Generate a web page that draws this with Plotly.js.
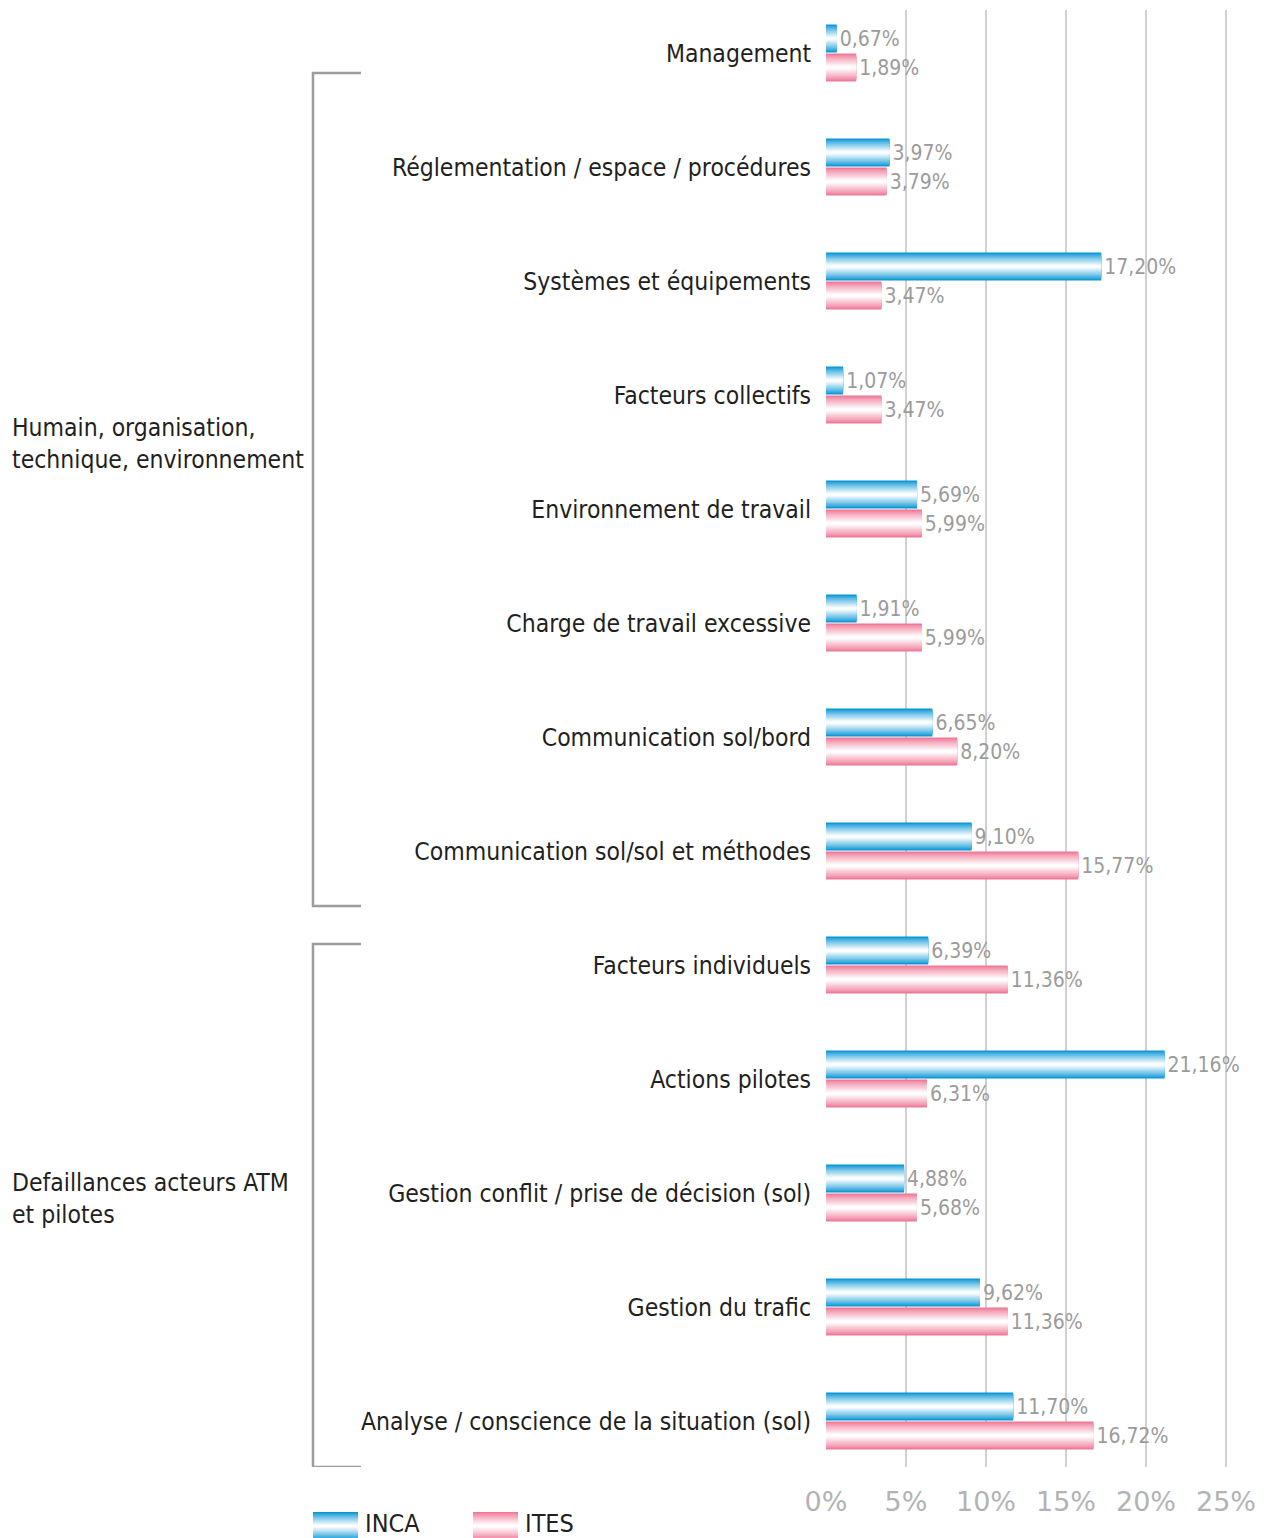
<!DOCTYPE html>
<html>
<head>
<meta charset="utf-8">
<script src="https://cdn.plot.ly/plotly-3.0.1.min.js"></script>
<style>html,body{margin:0;padding:0;background:#fff}</style>
</head>
<body>
<div id="chart" style="width:1275px;height:1538px"></div>
<script>
// Causes by category, share of events (%)
const categories = [
  'Management',
  'Réglementation / espace / procédures',
  'Systèmes et équipements',
  'Facteurs collectifs',
  'Environnement de travail',
  'Charge de travail excessive',
  'Communication sol/bord',
  'Communication sol/sol et méthodes',
  'Facteurs individuels',
  'Actions pilotes',
  'Gestion conflit / prise de décision (sol)',
  'Gestion du trafic',
  'Analyse / conscience de la situation (sol)'
];
const incaValues = [0.67, 3.97, 17.20, 1.07, 5.69, 1.91, 6.65, 9.10, 6.39, 21.16, 4.88, 9.62, 11.70];
const itesValues = [1.89, 3.79, 3.47, 3.47, 5.99, 5.99, 8.20, 15.77, 11.36, 6.31, 5.68, 11.36, 16.72];
const seriesNames = ['INCA', 'ITES'];
const groupLabels = ['Humain, organisation,<br>technique, environnement', 'Defaillances acteurs ATM<br>et pilotes'];
const xTickValues = [0, 5, 10, 15, 20, 25];

// ---- page geometry
const W = 1275, H = 1538;
const M = {l: 826, r: 0, t: 10, b: 71};
const plotW = W - M.l - M.r, plotH = H - M.t - M.b;
const ROW = 114, FIRST_ROW = 53;         // px per category row, centre of first row
const xRange = [0, plotW / 16];          // 16 px per percent
const yRange = [(H - M.b - FIRST_ROW) / ROW, -(FIRST_ROW - M.t) / ROW];   // reversed
const pxToPaperX = px => (px - M.l) / plotW;
const pxToPaperY = py => (H - M.b - py) / plotH;
const pxToIdx = py => (py - FIRST_ROW) / ROW;

const FONT = '"DejaVu Sans Condensed", "Liberation Sans Narrow", sans-serif';
const INK = '#231f20';
const edgeColors = [[8, 150, 214], [239, 119, 150]];

function mix(rgb, t) {
  const c = rgb.map(v => Math.round(v + (255 - v) * t));
  return `rgb(${c[0]},${c[1]},${c[2]})`;
}
const pct = v => v.toFixed(2).replace('.', ',') + '%';

// Shaded bars: each series is a stack of nested bars fading from edge colour to white
const LAYERS = 12;
const bandW = 28 / ROW;
const gap = 0.5 / ROW;
const bands = [{center: -gap - bandW / 2}, {center: gap + bandW / 2}];
const traces = [];
[incaValues, itesValues].forEach((vals, s) => {
  for (let k = 0; k < LAYERS; k++) {
    const w = bandW * (1 - k / LAYERS);
    const t = Math.pow(k / (LAYERS - 1), 0.85);
    const tr = {
      type: 'bar', orientation: 'h',
      x: vals, y: categories,
      width: w, offset: bands[s].center - w / 2,
      marker: {color: mix(edgeColors[s], t), line: {width: 0}},
      name: seriesNames[s], showlegend: false, hoverinfo: 'skip'
    };
    if (k === 0) {
      tr.text = vals.map(pct);
      tr.textposition = 'outside';
      tr.constraintext = 'none';
      tr.cliponaxis = false;
      tr.textfont = {family: FONT, size: 21, color: '#9b9b9b'};
    }
    traces.push(tr);
  }
});

// Group brackets on the left
const shapes = [];
[[73, 906], [944, 1467]].forEach(([a, b]) => {
  const x0 = pxToPaperX(313), x1 = pxToPaperX(361);
  shapes.push({
    type: 'path', xref: 'paper', yref: 'y',
    path: `M ${x1} ${pxToIdx(a)} L ${x0} ${pxToIdx(a)} L ${x0} ${pxToIdx(b)} L ${x1} ${pxToIdx(b)}`,
    line: {color: '#9d9d9f', width: 2.5}
  });
});

// Legend swatches with the same fade
const legendX = [313, 473];
legendX.forEach((lx, s) => {
  const top = 1512, bot = 1540, mid = (top + bot) / 2;
  for (let k = 0; k < LAYERS; k++) {
    const half = (bot - top) / 2 * (1 - k / LAYERS);
    const t = Math.pow(k / (LAYERS - 1), 0.85);
    shapes.push({
      type: 'rect', xref: 'paper', yref: 'paper',
      x0: pxToPaperX(lx), x1: pxToPaperX(lx + 45),
      y0: pxToPaperY(mid + half), y1: pxToPaperY(mid - half),
      fillcolor: mix(edgeColors[s], t), line: {width: 0}, layer: 'above'
    });
  }
});

const annotations = [
  {text: groupLabels[0], x: pxToPaperX(10), y: pxToIdx(443)},
  {text: groupLabels[1], x: pxToPaperX(10), y: pxToIdx(1198)}
].map(a => Object.assign({
  xref: 'paper', yref: 'y', xanchor: 'left', yanchor: 'middle', align: 'left',
  showarrow: false, font: {family: FONT, size: 24.5, color: INK}
}, a));
seriesNames.forEach((n, s) => {
  annotations.push({
    text: n, xref: 'paper', yref: 'paper',
    x: pxToPaperX(legendX[s] + 50), y: pxToPaperY(1523),
    xanchor: 'left', yanchor: 'middle', showarrow: false,
    font: {family: FONT, size: 25, color: INK}
  });
});

const layout = {
  width: W, height: H, margin: M,
  paper_bgcolor: '#fff', plot_bgcolor: '#fff',
  barmode: 'overlay', showlegend: false,
  font: {family: FONT, color: INK},
  xaxis: {
    range: xRange, tickvals: xTickValues, ticktext: xTickValues.map(v => v + '%'),
    showgrid: true, gridcolor: '#d0d0d0', gridwidth: 1.5,
    zeroline: false, showline: false,
    ticks: 'outside', ticklen: 11, tickcolor: 'rgba(0,0,0,0)',
    tickfont: {family: '"DejaVu Sans", sans-serif', size: 27, color: '#b3b3b3'}
  },
  yaxis: {
    type: 'category', categoryarray: categories, range: yRange,
    showgrid: false, zeroline: false, showline: false,
    ticks: 'outside', ticklen: 9, tickcolor: 'rgba(0,0,0,0)',
    tickfont: {family: FONT, size: 24.5, color: INK}
  },
  shapes: shapes,
  annotations: annotations
};

Plotly.newPlot('chart', traces, layout, {staticPlot: true, displayModeBar: false});
</script>
</body>
</html>
